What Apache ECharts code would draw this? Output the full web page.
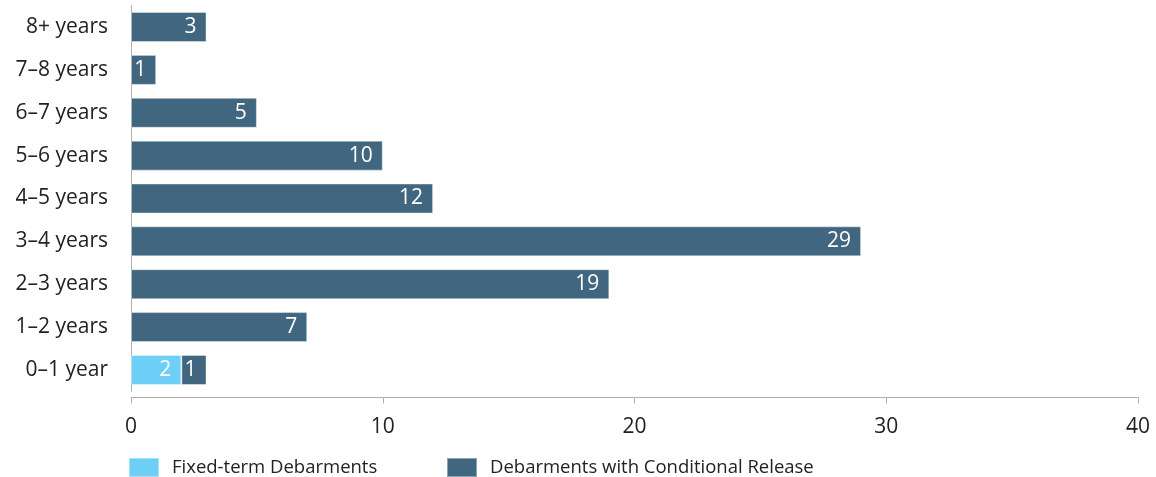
<!DOCTYPE html>
<html>
<head>
<meta charset="utf-8">
<script src="https://cdn.jsdelivr.net/npm/echarts@6/dist/echarts.min.js"></script>
<style>
  html, body { margin: 0; padding: 0; background: #fff; }
  #chart { width: 1156px; height: 477px; }
</style>
</head>
<body>
<div id="chart"></div>
<script>
// Debarment length categories, bottom to top
const categories = ['0–1 year', '1–2 years', '2–3 years', '3–4 years', '4–5 years', '5–6 years', '6–7 years', '7–8 years', '8+ years'];
const fixedTerm = [2, null, null, null, null, null, null, null, null];
const conditionalRelease = [1, 7, 19, 29, 12, 10, 5, 1, 3];
const xTicks = [0, 10, 20, 30, 40];

const FONT = '"Open Sans", Roboto, sans-serif';
const LIGHT = '#6dcff6';
const DARK = '#41667f';

const barLabel = {
  show: true,
  position: 'insideRight',
  distance: 10,
  color: '#fff',
  fontFamily: FONT,
  fontSize: 21
};

const chart = echarts.init(document.getElementById('chart'), null, { renderer: 'canvas' });
chart.setOption({
  animation: false,
  textStyle: { fontFamily: FONT },
  grid: { left: 131, right: 18, top: 5.6, bottom: 477 - 391.4, containLabel: false },
  xAxis: {
    type: 'value',
    min: xTicks[0],
    max: xTicks[xTicks.length - 1],
    interval: 10,
    offset: 6,
    splitLine: { show: false },
    axisLine: { show: true, lineStyle: { color: '#b0b0b0', width: 1 } },
    axisTick: { show: true, length: 6, lineStyle: { color: '#b0b0b0' } },
    axisLabel: { color: '#222', fontSize: 21, fontFamily: FONT, margin: 19 }
  },
  yAxis: {
    type: 'category',
    data: categories,
    axisLine: { show: true, lineStyle: { color: '#b0b0b0', width: 1 } },
    axisTick: { show: false },
    axisLabel: { color: '#222', fontSize: 21, fontFamily: FONT, margin: 23 }
  },
  legend: [
    {
      data: ['Fixed-term Debarments'],
      left: 128, top: 457, padding: 0,
      itemWidth: 30, itemHeight: 19, itemGap: 0,
      icon: 'rect',
      textStyle: { color: '#222', fontSize: 18.5, fontFamily: FONT, padding: [0, 0, 0, 8] }
    },
    {
      data: ['Debarments with Conditional Release'],
      left: 446, top: 457, padding: 0,
      itemWidth: 30, itemHeight: 19, itemGap: 0,
      icon: 'rect',
      textStyle: { color: '#222', fontSize: 18.5, fontFamily: FONT, padding: [0, 0, 0, 8] }
    }
  ],
  series: [
    {
      name: 'Fixed-term Debarments',
      type: 'bar',
      stack: 'total',
      barWidth: 30,
      data: fixedTerm,
      itemStyle: { color: LIGHT, borderColor: 'rgba(255,255,255,0.4)', borderWidth: 1 },
      label: barLabel
    },
    {
      name: 'Debarments with Conditional Release',
      type: 'bar',
      stack: 'total',
      barWidth: 30,
      data: conditionalRelease,
      itemStyle: { color: DARK, borderColor: 'rgba(255,255,255,0.4)', borderWidth: 1 },
      label: barLabel
    }
  ]
});
</script>
</body>
</html>
